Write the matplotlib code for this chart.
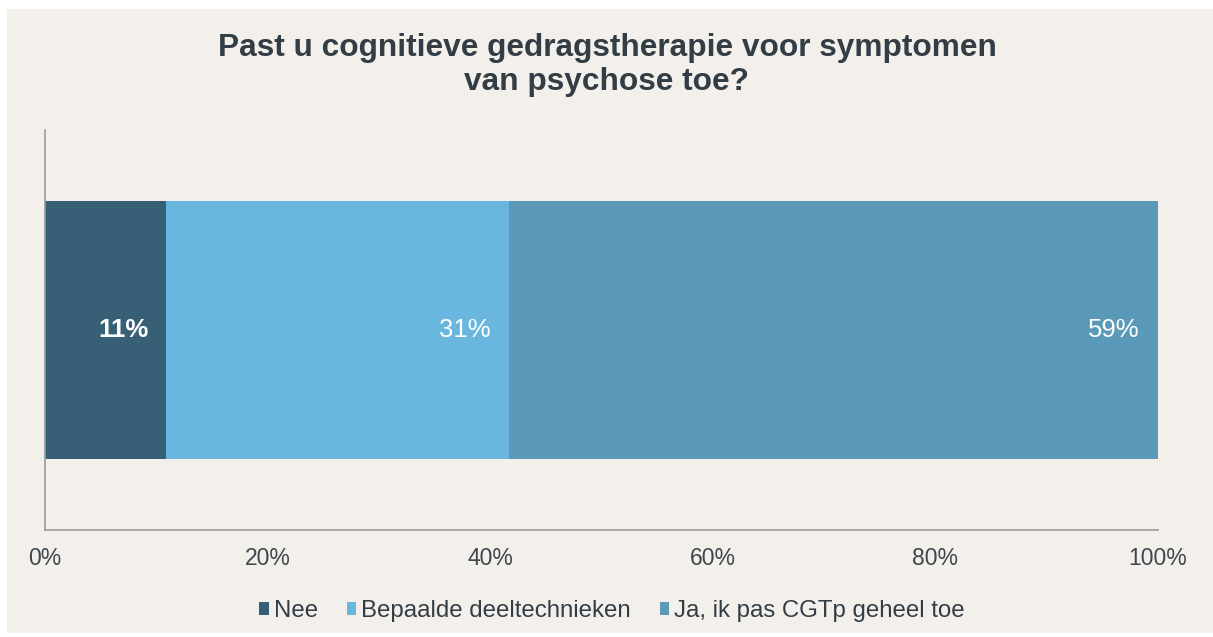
import matplotlib
matplotlib.use("Agg")
import matplotlib.pyplot as plt
from matplotlib.patches import Rectangle
from matplotlib.ticker import FuncFormatter

title = "Past u cognitieve gedragstherapie voor symptomen\nvan psychose toe?"
categories = ["Nee", "Bepaalde deeltechnieken", "Ja, ik pas CGTp geheel toe"]
values = [10.9, 30.8, 58.3]
value_labels = ["11%", "31%", "59%"]
label_bold = [True, False, False]
colors = ["#375F75", "#69B7DF", "#5A9AB8"]
xticks = [0, 20, 40, 60, 80, 100]

BG = "#F3F0EC"
TXT = "#333D45"

plt.rcParams['font.family'] = ['Liberation Sans', 'DejaVu Sans']

W, H = 1213, 637
fig = plt.figure(figsize=(W / 100, H / 100), dpi=100, facecolor="white")
fig.patches.append(Rectangle((7 / W, 1 - 633 / H), 1 - 7 / W, (633 - 9) / H,
                             transform=fig.transFigure, facecolor=BG,
                             edgecolor="none", zorder=-5))

ax = fig.add_axes([45 / W, 1 - 530 / H, (1158 - 45) / W, (530 - 130) / H])
ax.set_zorder(1)
ax.patch.set_alpha(0)

left = 0
for cat, v, lab, bold, c in zip(categories, values, value_labels, label_bold, colors):
    ax.barh(0, v, left=left, height=0.643, color=c, label=cat)
    ax.annotate(lab, xy=(left + v, 0), xytext=(-18, 0), textcoords="offset pixels",
                ha="right", va="center", color="white", fontsize=18.5,
                fontweight="bold" if bold else "normal")
    left += v

ax.set_xlim(0, 100)
ax.set_ylim(-0.5, 0.5)
ax.set_yticks([])
ax.set_xticks(xticks)
ax.xaxis.set_major_formatter(FuncFormatter(lambda x, p: f"{x:.0f}%"))
ax.tick_params(axis="x", length=0, pad=12, labelsize=16.5, labelcolor="#3F474D")
for s in ["top", "right"]:
    ax.spines[s].set_visible(False)
for s in ["left", "bottom"]:
    ax.spines[s].set_color("#9A9A9A")
    ax.spines[s].set_linewidth(1.2)

fig.text(607 / W, 1 - 65 / H, title, ha="center", va="center", fontsize=22.8,
         fontweight="bold", color=TXT, linespacing=1.15)

leg = fig.legend(loc="center", bbox_to_anchor=(612 / W, 1 - 611 / H), ncol=3,
                 frameon=False, fontsize=17.3, handlelength=0.4, handleheight=0.5,
                 handletextpad=0.2, columnspacing=1.2, borderpad=0)
for t in leg.get_texts():
    t.set_color(TXT)

fig.savefig("out.png", dpi=100, facecolor="white")
